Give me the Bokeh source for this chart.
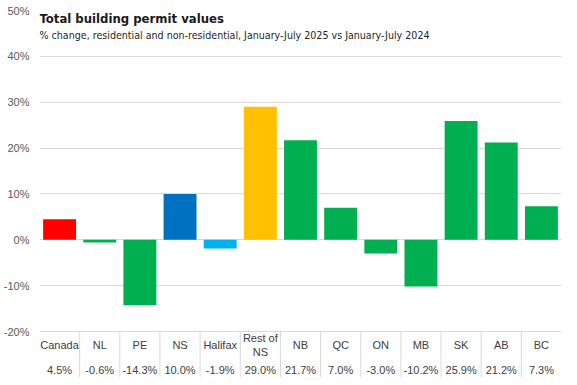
from bokeh.plotting import figure
from bokeh.models import Range1d, FixedTicker, PrintfTickFormatter, ColumnDataSource, Label, FactorRange
from bokeh.transform import dodge
from bokeh.core.properties import value
from bokeh.embed import file_html
from bokeh.resources import INLINE

# ---- data ----
categories = ["Canada", "NL", "PE", "NS", "Halifax", "Rest of NS", "NB",
              "QC", "ON", "MB", "SK", "AB", "BC"]
pct_change = [4.5, -0.6, -14.3, 10.0, -1.9, 29.0, 21.7, 7.0, -3.0, -10.2, 25.9, 21.2, 7.3]
bar_colors = ["#ff0000", "#00b050", "#00b050", "#0070c0", "#00b0f0", "#ffc000", "#00b050",
              "#00b050", "#00b050", "#00b050", "#00b050", "#00b050", "#00b050"]
y_ticks = [-20, -10, 0, 10, 20, 30, 40, 50]
title_text = "Total building permit values"
subtitle_text = "% change, residential and non-residential, January-July 2025 vs January-July 2024"

# ---- layout constants ----
Y_MAX = 50
Y_MIN = -30.03
TABLE_TOP = -20
LABEL_ROW_Y = -23.0
VALUE_ROW_Y = -28.5
GRID = "#d9d9d9"
FONT = "Liberation Sans"
TITLE_FONT = "DejaVu Sans Condensed"

row_labels = [c.replace("Rest of ", "Rest of\n") for c in categories]
value_labels = [f"{v:.1f}%" for v in pct_change]

src = ColumnDataSource(dict(cat=categories, val=pct_change, color=bar_colors,
                            lab=row_labels, vlab=value_labels))

p = figure(width=561, height=377, x_range=FactorRange(*categories),
           y_range=Range1d(Y_MIN, Y_MAX), output_backend="svg",
           toolbar_location=None, x_axis_location=None,
           min_border_top=10, min_border_bottom=0, min_border_left=30, min_border_right=0)
p.outline_line_color = None
p.background_fill_color = "white"
p.border_fill_color = "white"

p.xgrid.visible = False
p.yaxis.ticker = FixedTicker(ticks=y_ticks)
p.yaxis.formatter = PrintfTickFormatter(format="%d%%")
p.yaxis.axis_line_color = None
p.yaxis.major_tick_line_color = None
p.yaxis.minor_tick_line_color = None
p.yaxis.major_label_standoff = 4
p.yaxis.major_label_text_font = FONT
p.yaxis.major_label_text_font_size = "11px"
p.yaxis.major_label_text_color = "#595959"
p.ygrid.grid_line_color = GRID
p.ygrid.grid_line_width = 1

p.vbar(x="cat", top="val", bottom=0, width=0.82, fill_color="color",
       line_color=None, source=src)

# data-table below the chart
p.segment(x0=dodge("cat", 0.5, range=p.x_range), y0=TABLE_TOP,
          x1=dodge("cat", 0.5, range=p.x_range), y1=Y_MIN,
          line_color=GRID, line_width=1, source=src)
p.text(x="cat", y=LABEL_ROW_Y, text="lab", text_align="center", text_baseline="middle",
       text_font=value(FONT), text_font_size="11px", text_color="#404040", source=src)
p.text(x="cat", y=VALUE_ROW_Y, text="vlab", text_align="center", text_baseline="middle",
       text_font=value(FONT), text_font_size="11px", text_color="#404040", source=src)

p.add_layout(Label(x=0, y=48.3, text=title_text, text_font=TITLE_FONT,
                   text_font_style="bold", text_font_size="13px", text_color="#1a1a1a",
                   text_baseline="middle", text_align="left"))
p.add_layout(Label(x=0, y=44.7, text=subtitle_text, text_font=TITLE_FONT,
                   text_font_size="10.6px", text_color="#262626",
                   text_baseline="middle", text_align="left"))

open("out.html", "w").write(file_html(p, INLINE))
